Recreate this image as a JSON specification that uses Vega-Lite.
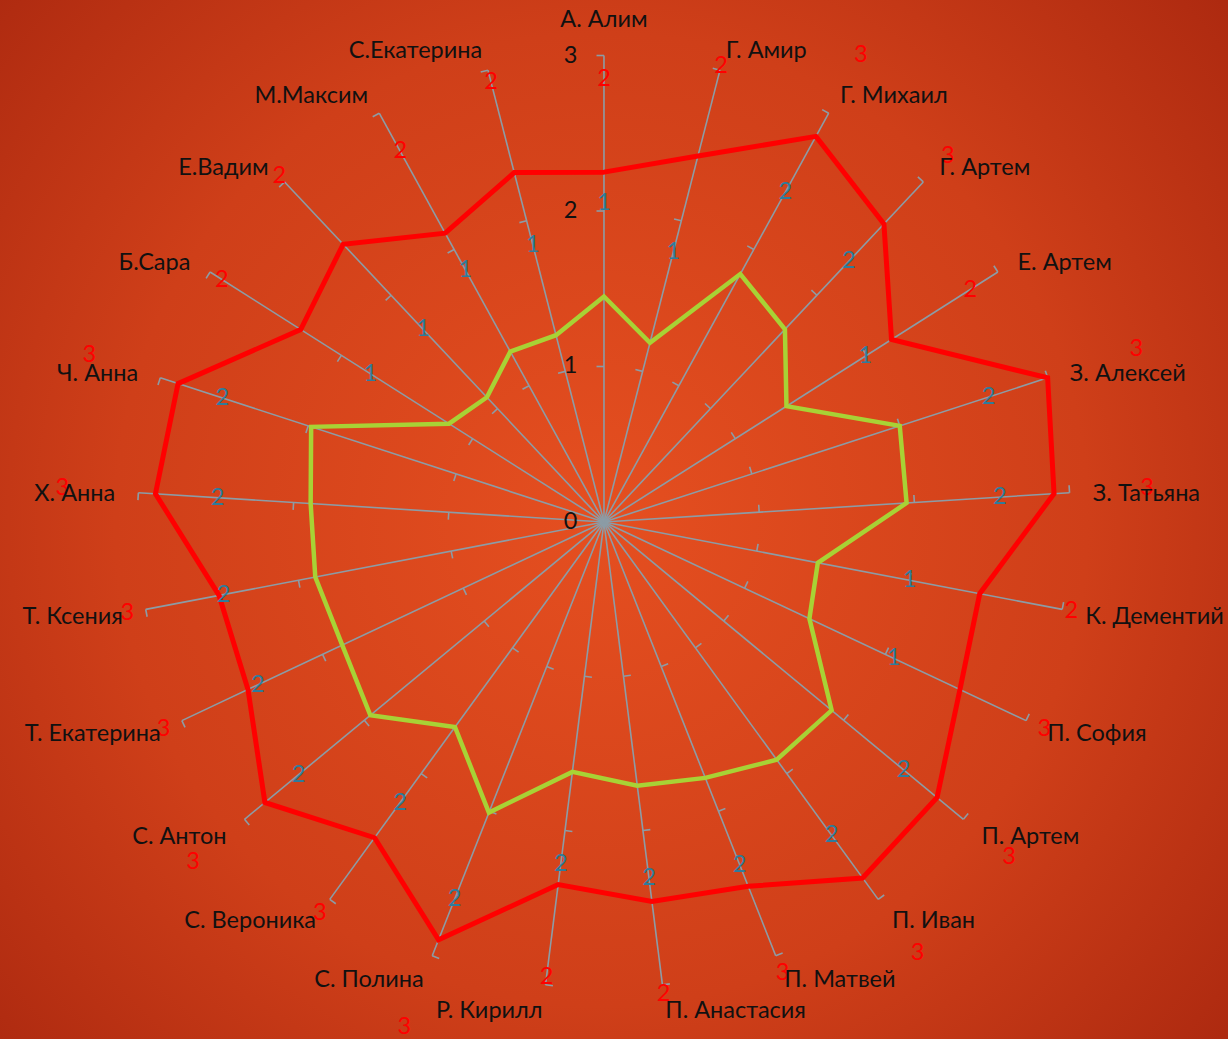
{
  "$schema": "https://vega.github.io/schema/vega-lite/v6.json",
  "width": 1228,
  "height": 1039,
  "autosize": {"type": "none"},
  "padding": 0,
  "background": "#C23A1A",
  "config": {
    "view": {
      "stroke": null,
      "fill": {
        "gradient": "radial",
        "x1": 0.49, "y1": 0.5, "r1": 0,
        "x2": 0.49, "y2": 0.5, "r2": 0.72,
        "stops": [
          {"offset": 0, "color": "#E54F20"},
          {"offset": 0.55, "color": "#CF3F19"},
          {"offset": 1, "color": "#A6250E"}
        ]
      }
    },
    "text": {"font": "Lato"}
  },
  "data": {
    "values": [
      {"idx": 0, "name": "А. Алим", "red": 2.25, "green": 1.45},
      {"idx": 1, "name": "Г. Амир", "red": 2.43, "green": 1.19},
      {"idx": 2, "name": "Г. Михаил", "red": 2.83, "green": 1.82},
      {"idx": 3, "name": "Г. Артем", "red": 2.63, "green": 1.70},
      {"idx": 4, "name": "Е. Артем", "red": 2.19, "green": 1.39},
      {"idx": 5, "name": "З. Алексей", "red": 3.00, "green": 2.00},
      {"idx": 6, "name": "З. Татьяна", "red": 2.90, "green": 1.95},
      {"idx": 7, "name": "К. Дементий", "red": 2.46, "green": 1.40},
      {"idx": 8, "name": "П. София", "red": 2.53, "green": 1.46},
      {"idx": 9, "name": "П. Артем", "red": 2.78, "green": 1.90},
      {"idx": 10, "name": "П. Иван", "red": 2.83, "green": 1.89},
      {"idx": 11, "name": "П. Матвей", "red": 2.52, "green": 1.77},
      {"idx": 12, "name": "П. Анастасия", "red": 2.46, "green": 1.71},
      {"idx": 13, "name": "Р. Кирилл", "red": 2.35, "green": 1.62},
      {"idx": 14, "name": "С. Полина", "red": 2.89, "green": 2.01},
      {"idx": 15, "name": "С. Вероника", "red": 2.51, "green": 1.63},
      {"idx": 16, "name": "С. Антон", "red": 2.83, "green": 1.95},
      {"idx": 17, "name": "Т. Екатерина", "red": 2.53, "green": 1.86},
      {"idx": 18, "name": "Т. Ксения", "red": 2.52, "green": 1.89},
      {"idx": 19, "name": "Х. Анна", "red": 2.89, "green": 1.89},
      {"idx": 20, "name": "Ч. Анна", "red": 2.88, "green": 1.98},
      {"idx": 21, "name": "Б.Сара", "red": 2.31, "green": 1.18},
      {"idx": 22, "name": "Е.Вадим", "red": 2.45, "green": 1.10},
      {"idx": 23, "name": "М.Максим", "red": 2.12, "green": 1.25},
      {"idx": 24, "name": "С.Екатерина", "red": 2.32, "green": 1.24}
    ]
  },
  "encoding": {
    "x": {"field": "px", "type": "quantitative", "axis": null,
          "scale": {"domain": [-3.884, 4.013], "nice": false, "zero": false}},
    "y": {"field": "py", "type": "quantitative", "axis": null,
          "scale": {"domain": [-3.325, 3.357], "nice": false, "zero": false}}
  },
  "layer": [
    {
      "transform": [
        {"calculate": "datum.idx * 2 * PI / 25", "as": "t"},
        {"calculate": "0", "as": "px"},
        {"calculate": "0", "as": "py"},
        {"calculate": "3 * sin(datum.t)", "as": "px2"},
        {"calculate": "3 * cos(datum.t)", "as": "py2"}
      ],
      "mark": {"type": "rule", "color": "#8C9CA6", "strokeWidth": 1.6},
      "encoding": {
        "x2": {"field": "px2"},
        "y2": {"field": "py2"}
      }
    },
    {
      "transform": [
        {"calculate": "datum.idx * 2 * PI / 25", "as": "t"},
        {"calculate": "1", "as": "r1"},
        {"calculate": "2", "as": "r2"},
        {"calculate": "3", "as": "r3"},
        {"fold": ["r1", "r2", "r3"], "as": ["k", "r"]},
        {"calculate": "datum.r * sin(datum.t)", "as": "px"},
        {"calculate": "datum.r * cos(datum.t)", "as": "py"},
        {"calculate": "datum.px - 0.048 * cos(datum.t)", "as": "px2"},
        {"calculate": "datum.py + 0.048 * sin(datum.t)", "as": "py2"}
      ],
      "mark": {"type": "rule", "color": "#8C9CA6", "strokeWidth": 1.6},
      "encoding": {
        "x2": {"field": "px2"},
        "y2": {"field": "py2"}
      }
    },
    {
      "transform": [
        {"calculate": "datum.idx * 2 * PI / 25", "as": "t"},
        {"calculate": "datum.green * sin(datum.t)", "as": "px"},
        {"calculate": "datum.green * cos(datum.t)", "as": "py"}
      ],
      "mark": {"type": "line", "interpolate": "linear-closed", "color": "#A8D235", "strokeWidth": 4.5, "strokeJoin": "miter"},
      "encoding": {"order": {"field": "idx", "type": "quantitative"}}
    },
    {
      "transform": [
        {"calculate": "datum.idx * 2 * PI / 25", "as": "t"},
        {"calculate": "datum.red * sin(datum.t)", "as": "px"},
        {"calculate": "datum.red * cos(datum.t)", "as": "py"}
      ],
      "mark": {"type": "line", "interpolate": "linear-closed", "color": "#FF0000", "strokeWidth": 5, "strokeJoin": "miter"},
      "encoding": {"order": {"field": "idx", "type": "quantitative"}}
    },
    {
      "data": {"values": [{"v": 0}, {"v": 1}, {"v": 2}, {"v": 3}]},
      "transform": [
        {"calculate": "-0.215", "as": "px"},
        {"calculate": "datum.v", "as": "py"}
      ],
      "mark": {"type": "text", "fontSize": 23.5, "color": "#111111", "align": "center", "baseline": "middle", "font": "Lato"},
      "encoding": {"text": {"field": "v", "type": "quantitative", "format": "d"}}
    },
    {
      "transform": [
        {"calculate": "datum.idx * 2 * PI / 25", "as": "t"},
        {"calculate": "(datum.green + 0.6) * sin(datum.t)", "as": "px"},
        {"calculate": "(datum.green + 0.6) * cos(datum.t)", "as": "py"}
      ],
      "mark": {"type": "text", "fontSize": 23.5, "color": "#2E7C9C", "align": "center", "baseline": "middle", "font": "Lato"},
      "encoding": {"text": {"field": "green", "type": "quantitative", "format": ".0f"}}
    },
    {
      "transform": [
        {"calculate": "datum.idx * 2 * PI / 25", "as": "t"},
        {"calculate": "(datum.red + 0.6) * sin(datum.t)", "as": "px"},
        {"calculate": "(datum.red + 0.6) * cos(datum.t)", "as": "py"}
      ],
      "mark": {"type": "text", "fontSize": 23.5, "color": "#FF0000", "align": "center", "baseline": "middle", "font": "Lato"},
      "encoding": {"text": {"field": "red", "type": "quantitative", "format": ".0f"}}
    },
    {
      "transform": [
        {"calculate": "datum.idx * 2 * PI / 25", "as": "t"},
        {"filter": "sin(datum.t) > 0.05"},
        {"calculate": "3.15 * sin(datum.t)", "as": "px"},
        {"calculate": "3.15 * cos(datum.t)", "as": "py"}
      ],
      "mark": {"type": "text", "fontSize": 23.5, "color": "#111111", "align": "left", "baseline": "middle", "dy": 3, "font": "Lato"},
      "encoding": {"text": {"field": "name", "type": "nominal"}}
    },
    {
      "transform": [
        {"calculate": "datum.idx * 2 * PI / 25", "as": "t"},
        {"filter": "sin(datum.t) < -0.05"},
        {"calculate": "3.15 * sin(datum.t)", "as": "px"},
        {"calculate": "3.15 * cos(datum.t)", "as": "py"}
      ],
      "mark": {"type": "text", "fontSize": 23.5, "color": "#111111", "align": "right", "baseline": "middle", "dy": 3, "font": "Lato"},
      "encoding": {"text": {"field": "name", "type": "nominal"}}
    },
    {
      "transform": [
        {"calculate": "datum.idx * 2 * PI / 25", "as": "t"},
        {"filter": "abs(sin(datum.t)) <= 0.05"},
        {"calculate": "3.24 * sin(datum.t)", "as": "px"},
        {"calculate": "3.24 * cos(datum.t)", "as": "py"}
      ],
      "mark": {"type": "text", "fontSize": 23.5, "color": "#111111", "align": "center", "baseline": "middle", "dy": 2, "font": "Lato"},
      "encoding": {"text": {"field": "name", "type": "nominal"}}
    }
  ]
}
